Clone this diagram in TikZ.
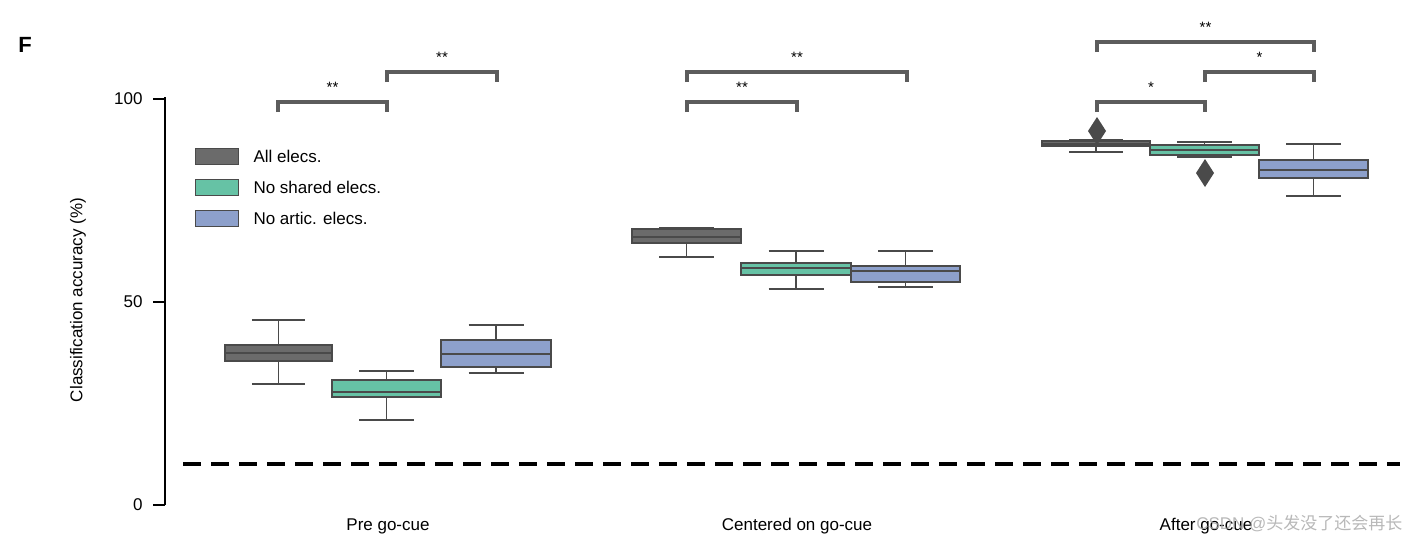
\documentclass[tikz,border=0pt]{standalone}
\usepackage{fontspec}
\setmainfont{Liberation Sans}
\newfontfamily\cjk{Noto Sans CJK SC}
\definecolor{cgray}{HTML}{6B6B6B}
\definecolor{cgreen}{HTML}{66C2A5}
\definecolor{cblue}{HTML}{8DA0CB}
\definecolor{edge}{HTML}{4A4A4A}
\tikzset{lab/.style={font=\fontsize{17}{20}\selectfont}}
\newcommand{\bxp}[8]{% x1 x2 wlo q1 med q3 whi color
 \draw[edge,line width=1.4pt] ({(#1+#2)/2},#3)--({(#1+#2)/2},#4) ({(#1+#2)/2},#6)--({(#1+#2)/2},#7);
 \draw[edge,line width=1.4pt] ({#1+(#2-#1)/4},#3)--({#2-(#2-#1)/4},#3) ({#1+(#2-#1)/4},#7)--({#2-(#2-#1)/4},#7);
 \draw[edge,line width=1.4pt,fill=#8] (#1,#4) rectangle (#2,#6);
 \draw[edge,line width=1.4pt] (#1,#5)--(#2,#5);}
\newcommand{\brk}[4]{% x1 x2 y label
 \draw[edge!90,line width=3.5pt] (#1,#3+10)--(#1,#3)--(#2,#3)--(#2,#3+10);
 \node[font=\fontsize{15}{18}\selectfont] at ({(#1+#2)/2},#3-15) {#4};}
\begin{document}
\begin{tikzpicture}[x=1pt,y=-1pt]
\useasboundingbox (0,0) rectangle (1408,550);
\node[font=\fontsize{22}{24}\selectfont\bfseries] (F) at (25,45) {F};
\draw[black,line width=1.6pt] (165,97)--(165,505);
\foreach \y/\l in {99/100,302/50,505/0}{\draw[line width=1.6pt] (153,\y)--(165,\y); \node[anchor=east,lab] at (146,\y) {\l};}
\node[rotate=90,lab] (yl) at (78,300) {Classification accuracy (\%)};
\draw[line width=3.5pt,dash pattern=on 18pt off 10pt] (183,464)--(1400,464);
% Pre
\bxp{225}{332}{384}{361}{353}{345}{320}{cgray}
\bxp{332}{441}{420}{397}{392}{380}{371}{cgreen}
\bxp{441}{551}{373}{367}{354}{340}{325}{cblue}
% Centered
\bxp{632}{741}{257}{243}{237}{229}{228}{cgray}
\bxp{741}{851}{289}{275}{268}{263}{251}{cgreen}
\bxp{851}{960}{287}{282}{271}{266}{251}{cblue}
% After
\bxp{1042}{1150}{152}{146}{144}{141}{140}{cgray}
\bxp{1150}{1259}{157}{155}{150}{145}{142}{cgreen}
\bxp{1259}{1368}{196}{178}{170}{160}{144}{cblue}
\fill[edge] (1097,117)--(1106,131)--(1097,145)--(1088,131)--cycle;
\fill[edge] (1205,159)--(1214,173)--(1205,187)--(1196,173)--cycle;
% brackets
\brk{278}{387}{102}{**}
\brk{387}{497}{72}{**}
\brk{687}{907}{72}{**}
\brk{687}{797}{102}{**}
\brk{1097}{1314}{42}{**}
\brk{1205}{1314}{72}{*}
\brk{1097}{1205}{102}{*}
% legend
\foreach \y/\c/\t in {156/cgray/All elecs.,187/cgreen/No shared elecs.,218/cblue/No artic. elecs.}{
 \draw[edge,line width=1pt,fill=\c] (195,\y-8) rectangle (238,\y+8);
 \node[anchor=west,lab] at (250,\y) {\t};}
\node[lab] (c1) at (388,526) {Pre go-cue};
\node[lab] (c2) at (797,526) {Centered on go-cue};
\node[lab] (c3) at (1206,526) {After go-cue};
\node[anchor=east,lab,text=gray!70,opacity=0.8] (wm) at (1406,523) {CSDN @{\cjk 头发没了还会再长}};
\end{tikzpicture}
\end{document}
